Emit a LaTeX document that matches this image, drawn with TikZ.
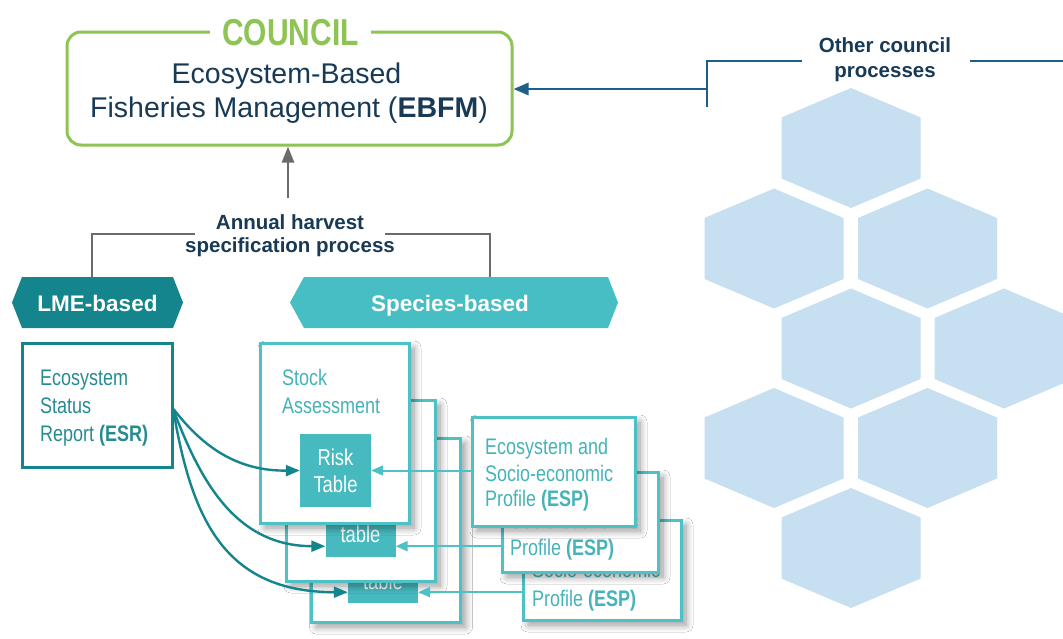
\documentclass[tikz,border=0pt]{standalone}
\usepackage{fontspec}
\setmainfont{Liberation Sans}
\newfontfamily\narrow{Liberation Sans}[FakeStretch=0.8]
\usetikzlibrary{arrows.meta,shadows.blur,calc}
\newcommand\setfs[1]{\fontsize{#1pt}{#1pt}\selectfont}
\definecolor{navy}{HTML}{183A56}
\definecolor{cgreen}{HTML}{8DC454}
\definecolor{oblue}{HTML}{1F5E88}
\definecolor{gline}{HTML}{6B6B6B}
\definecolor{dteal}{HTML}{14858C}
\definecolor{steal}{HTML}{47BEC3}
\definecolor{esrtext}{HTML}{258C91}
\definecolor{lteal}{HTML}{4DC1C6}
\definecolor{ltext}{HTML}{45B3B8}
\definecolor{tfill}{HTML}{47BABF}
\definecolor{hexblue}{HTML}{C6DFF1}
\tikzset{
  lbl/.style={inner sep=0pt, anchor=base},
  lblw/.style={inner sep=0pt, anchor=base west},
  shad/.style={blur shadow={shadow xshift=5pt, shadow yshift=-5pt, shadow blur radius=7pt, shadow opacity=40, shadow blur steps=10}},
  stockbox/.style={draw=lteal, line width=3pt, fill=white, minimum width=149pt, minimum height=181pt, inner sep=0pt, shad},
  espbox/.style={draw=lteal, line width=3pt, fill=white, minimum width=157pt, minimum height=100pt, inner sep=0pt, shad},
  tbl/.style={fill=tfill, minimum width=70pt, minimum height=73pt, inner sep=0pt},
  wtxt/.style={lbl, text=white, font=\narrow\setfs{23}},
  ltxt/.style={lblw, text=ltext, font=\narrow\setfs{22.5}},
  darr/.style={draw=dteal, line width=2.4pt, -{Triangle[length=14pt,width=11pt]}},
  larr/.style={draw=lteal, line width=2pt, -{Triangle[length=12pt,width=10pt]}},
  bluel/.style={draw=oblue, line width=2.8pt},
  grayl/.style={draw=gline, line width=2.4pt},
}
\begin{document}
\begin{tikzpicture}[x=1pt,y=-1pt]
\useasboundingbox (0,0) rectangle (1063,638);
\fill[white] (0,0) rectangle (1063,638);

% hexagons
\foreach \cx/\cy in {851/148, 774/248.5, 927.5/248.5, 851/348.5, 1004/348.5, 774/448, 927.5/448, 851/548}
  \fill[hexblue] (\cx-69.5,\cy-30.5) -- (\cx,\cy-60) -- (\cx+69.5,\cy-30.5) -- (\cx+69.5,\cy+30.5) -- (\cx,\cy+60) -- (\cx-69.5,\cy+30.5) -- cycle;

% council
\node[draw=cgreen, line width=3pt, rounded corners=14pt, minimum width=445pt, minimum height=113pt, inner sep=0pt] (council) at (289.5,88.5) {};
\node[lbl, fill=white, inner xsep=12pt, inner ysep=3pt, text=cgreen, font=\narrow\bfseries\setfs{37.5}] (councilt) at (290.5,45) {COUNCIL};
\node[lbl, text=navy, font=\setfs{28.5}] (eb1) at (286.5,83) {Ecosystem-Based};
\node[lbl, text=navy, font=\setfs{28.5}] (eb2) at (289,117) {Fisheries Management (\textbf{EBFM})};

% other council processes
\node[lbl, text=navy, font=\bfseries\setfs{20.5}] (oc1) at (885,52) {Other council};
\node[lbl, text=navy, font=\bfseries\setfs{20.5}] (oc2) at (885,77) {processes};
\coordinate (ocl) at (802,61);
\coordinate (occ) at (707,61);
\coordinate (ocb) at (707,107);
\coordinate (ocm) at (707,89);
\coordinate (ocr) at (970,61);
\coordinate (oce) at (1063,61);
\draw[bluel] (ocl) -- (occ) -- (ocb);
\draw[bluel] (ocr) -- (oce);
\draw[bluel, -{Triangle[length=15pt,width=12pt]}] (ocm) -- (council.east |- ocm);

% annual harvest
\node[lbl, text=navy, font=\bfseries\setfs{20.5}] (ah1) at (290,229) {Annual harvest};
\node[lbl, text=navy, font=\bfseries\setfs{20.5}] (ah2) at (290,252) {specification process};
\coordinate (ahtop) at (288,198);
\draw[grayl, -{Triangle[length=16pt,width=12pt]}] (ahtop) -- (ahtop |- council.south);
\coordinate (ahl) at (195,234);
\coordinate (ahlc) at (92,234);
\coordinate (lmetop) at (92,277);
\coordinate (ahr) at (385,234);
\coordinate (ahrc) at (490,234);
\coordinate (sptop) at (490,277);
\draw[grayl] (ahl) -- (ahlc) -- (lmetop);
\draw[grayl] (ahr) -- (ahrc) -- (sptop);

% LME / species banners
\fill[dteal] (22,277) -- (173,277) -- (183,302.5) -- (173,328) -- (22,328) -- (12,302.5) -- cycle;
\node[lbl, text=white, font=\bfseries\setfs{22.5}] (lme) at (97.5,311) {LME-based};
\fill[steal] (304,277) -- (608,277) -- (618,302.5) -- (608,328) -- (304,328) -- (290,302.5) -- cycle;
\node[lbl, text=white, font=\bfseries\setfs{22.5}] (spec) at (450,311) {Species-based};

% ESR
\node[draw=dteal, line width=3pt, fill=white, minimum width=150pt, minimum height=124pt, inner sep=0pt] (esr) at (97,405) {};
\node[lblw, text=esrtext, font=\narrow\setfs{22.5}] (esr1) at (40,385) {Ecosystem};
\node[lblw, text=esrtext, font=\narrow\setfs{22.5}] (esr2) at (40,413) {Status};
\node[lblw, text=esrtext, font=\narrow\setfs{22.5}] (esr3) at (40,441) {Report \textbf{(ESR)}};

% stock assessment stack
\node[stockbox, minimum height=184pt] (box3) at (386,530) {};
\node[tbl] (table3) at (383,566.5) {};
\node[wtxt] (tab3t) at (383,589) {table};
\node[stockbox] (box2) at (360.5,490.5) {};
\node[tbl] (table2) at (360.5,520.5) {};
\node[wtxt] (tab2t) at (360.5,542) {table};
\node[stockbox, minimum height=180pt] (box1) at (334.5,433) {};
\node[ltxt] (st1) at (282,385) {Stock};
\node[ltxt] (st2) at (282,413) {Assessment};
\node[tbl, minimum width=71pt] (risk1) at (335.5,470.5) {};
\node[wtxt] (rk1) at (335.5,465) {Risk};
\node[wtxt] (rk2) at (335.5,492) {Table};

% ESP stack
\node[espbox, minimum width=158pt] (esp3) at (602,570) {};
\node[ltxt] (e3a) at (532,577) {Socio-economic};
\node[ltxt] (e3b) at (532,606) {Profile \textbf{(ESP)}};
\node[espbox, minimum width=156pt] (esp2) at (580,522) {};
\node[ltxt] (e2a) at (510,528) {Socio-economic};
\node[ltxt] (e2b) at (510,555) {Profile \textbf{(ESP)}};
\node[espbox, minimum width=163pt, minimum height=109pt] (esp1) at (553.5,471.5) {};
\node[ltxt] (e1a) at (485,454) {Ecosystem and};
\node[ltxt] (e1b) at (485,481) {Socio-economic};
\node[ltxt] (e1c) at (485,506) {Profile \textbf{(ESP)}};

% connectors
\coordinate (t2in) at ([yshift=11pt]table2.south west);
\coordinate (t3in) at ([yshift=11pt]table3.south west);
\coordinate (t2out) at ([yshift=11pt]table2.south east);
\coordinate (t3out) at ([yshift=11pt]table3.south east);
\draw[darr] ([yshift=-4pt]esr.east) .. controls (205,450) and (240,471) .. (risk1.west);
\draw[darr] ([yshift=-5pt]esr.east) .. controls (200,480) and (235,546) .. (t2in);
\draw[darr] ([yshift=-6pt]esr.east) .. controls (192,520) and (225,592) .. (t3in);
\draw[larr] (esp1.west |- risk1.east) -- (risk1.east);
\draw[larr] (esp2.west |- t2out) -- (t2out);
\draw[larr] (esp3.west |- t3out) -- (t3out);
\end{tikzpicture}
\end{document}
